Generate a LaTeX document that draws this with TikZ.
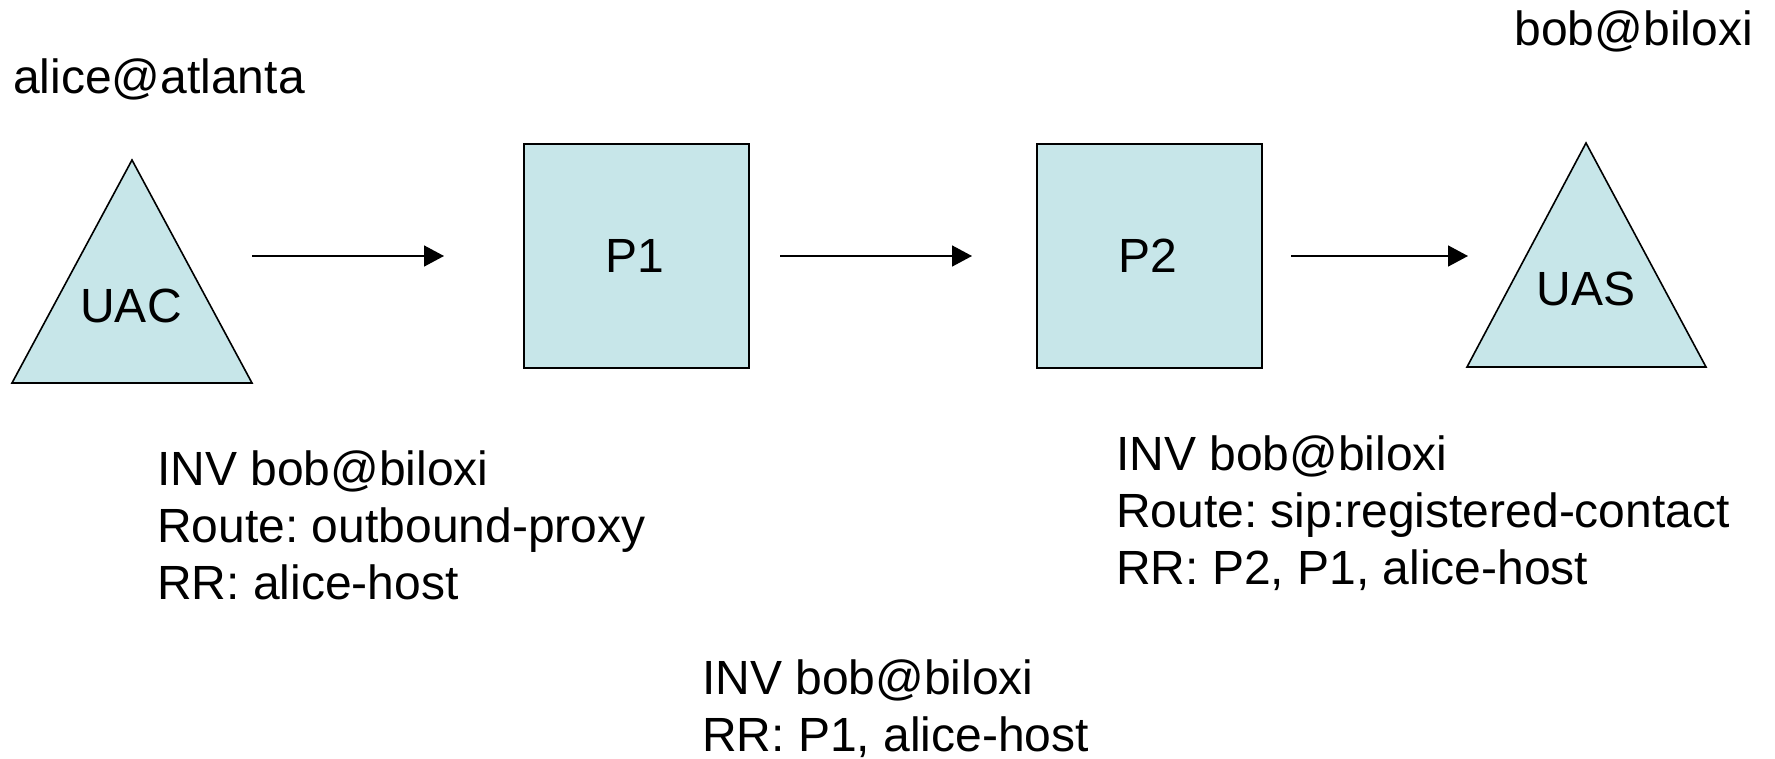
\documentclass[tikz,border=0pt]{standalone}
\usepackage{fontspec}
\setmainfont{Liberation Sans}
\frenchspacing
\usetikzlibrary{arrows.meta}
\definecolor{boxfill}{RGB}{199,230,233}
\tikzset{
  shapeline/.style={draw=black, line width=1.6pt, fill=boxfill, line join=miter},
  proxybox/.style={shapeline, minimum width=225pt, minimum height=224pt, inner sep=0pt, anchor=north west},
  lbl/.style={inner sep=0pt, font=\fontsize{48}{57}\selectfont},
  flow/.style={draw=black, line width=1.6pt, -{Triangle[length=20pt,width=21pt]}}
}
\begin{document}
\begin{tikzpicture}[x=1pt,y=-1pt]
\useasboundingbox (0,0) rectangle (1775,758);
% UAC triangle
\path[shapeline] (132,160) -- (252,383) -- (12,383) -- cycle;
\node[lbl, anchor=base] (uac) at (131,322) {UAC};
% UAS triangle
\path[shapeline] (1586,143) -- (1706,367) -- (1467,367) -- cycle;
\node[lbl, anchor=base] (uas) at (1586,305) {UAS};
% proxies
\node[proxybox] (p1box) at (523,143) {};
\node[lbl, anchor=base] (p1) at (635,272) {P1};
\node[proxybox] (p2box) at (1036,143) {};
\node[lbl, anchor=base] (p2) at (1148,272) {P2};
% arrow ends
\coordinate (a1s) at (252,256);
\coordinate (a1e) at (444,256);
\coordinate (a2s) at (780,256);
\coordinate (a2e) at (972,256);
\coordinate (a3s) at (1291,256);
\coordinate (a3e) at (1468,256);
\draw[flow] (a1s) -- (a1e);
\draw[flow] (a2s) -- (a2e);
\draw[flow] (a3s) -- (a3e);
% top labels
\node[lbl, anchor=base west] (alice) at (13,93) {alice@atlanta};
\node[lbl, anchor=base east] (bob) at (1753,45) {bob@biloxi};
% message blocks
\node[lbl, anchor=base west] (m1) at (157,485) {\begin{tabular}[t]{@{}l@{}}INV bob@biloxi\\Route: outbound-proxy\\RR: alice-host\end{tabular}};
\node[lbl, anchor=base west] (m2) at (702,694) {\begin{tabular}[t]{@{}l@{}}INV bob@biloxi\\RR: P1, alice-host\end{tabular}};
\node[lbl, anchor=base west] (m3) at (1116,470) {\begin{tabular}[t]{@{}l@{}}INV bob@biloxi\\Route: sip:registered-contact\\RR: P2, P1, alice-host\end{tabular}};
\end{tikzpicture}
\end{document}
